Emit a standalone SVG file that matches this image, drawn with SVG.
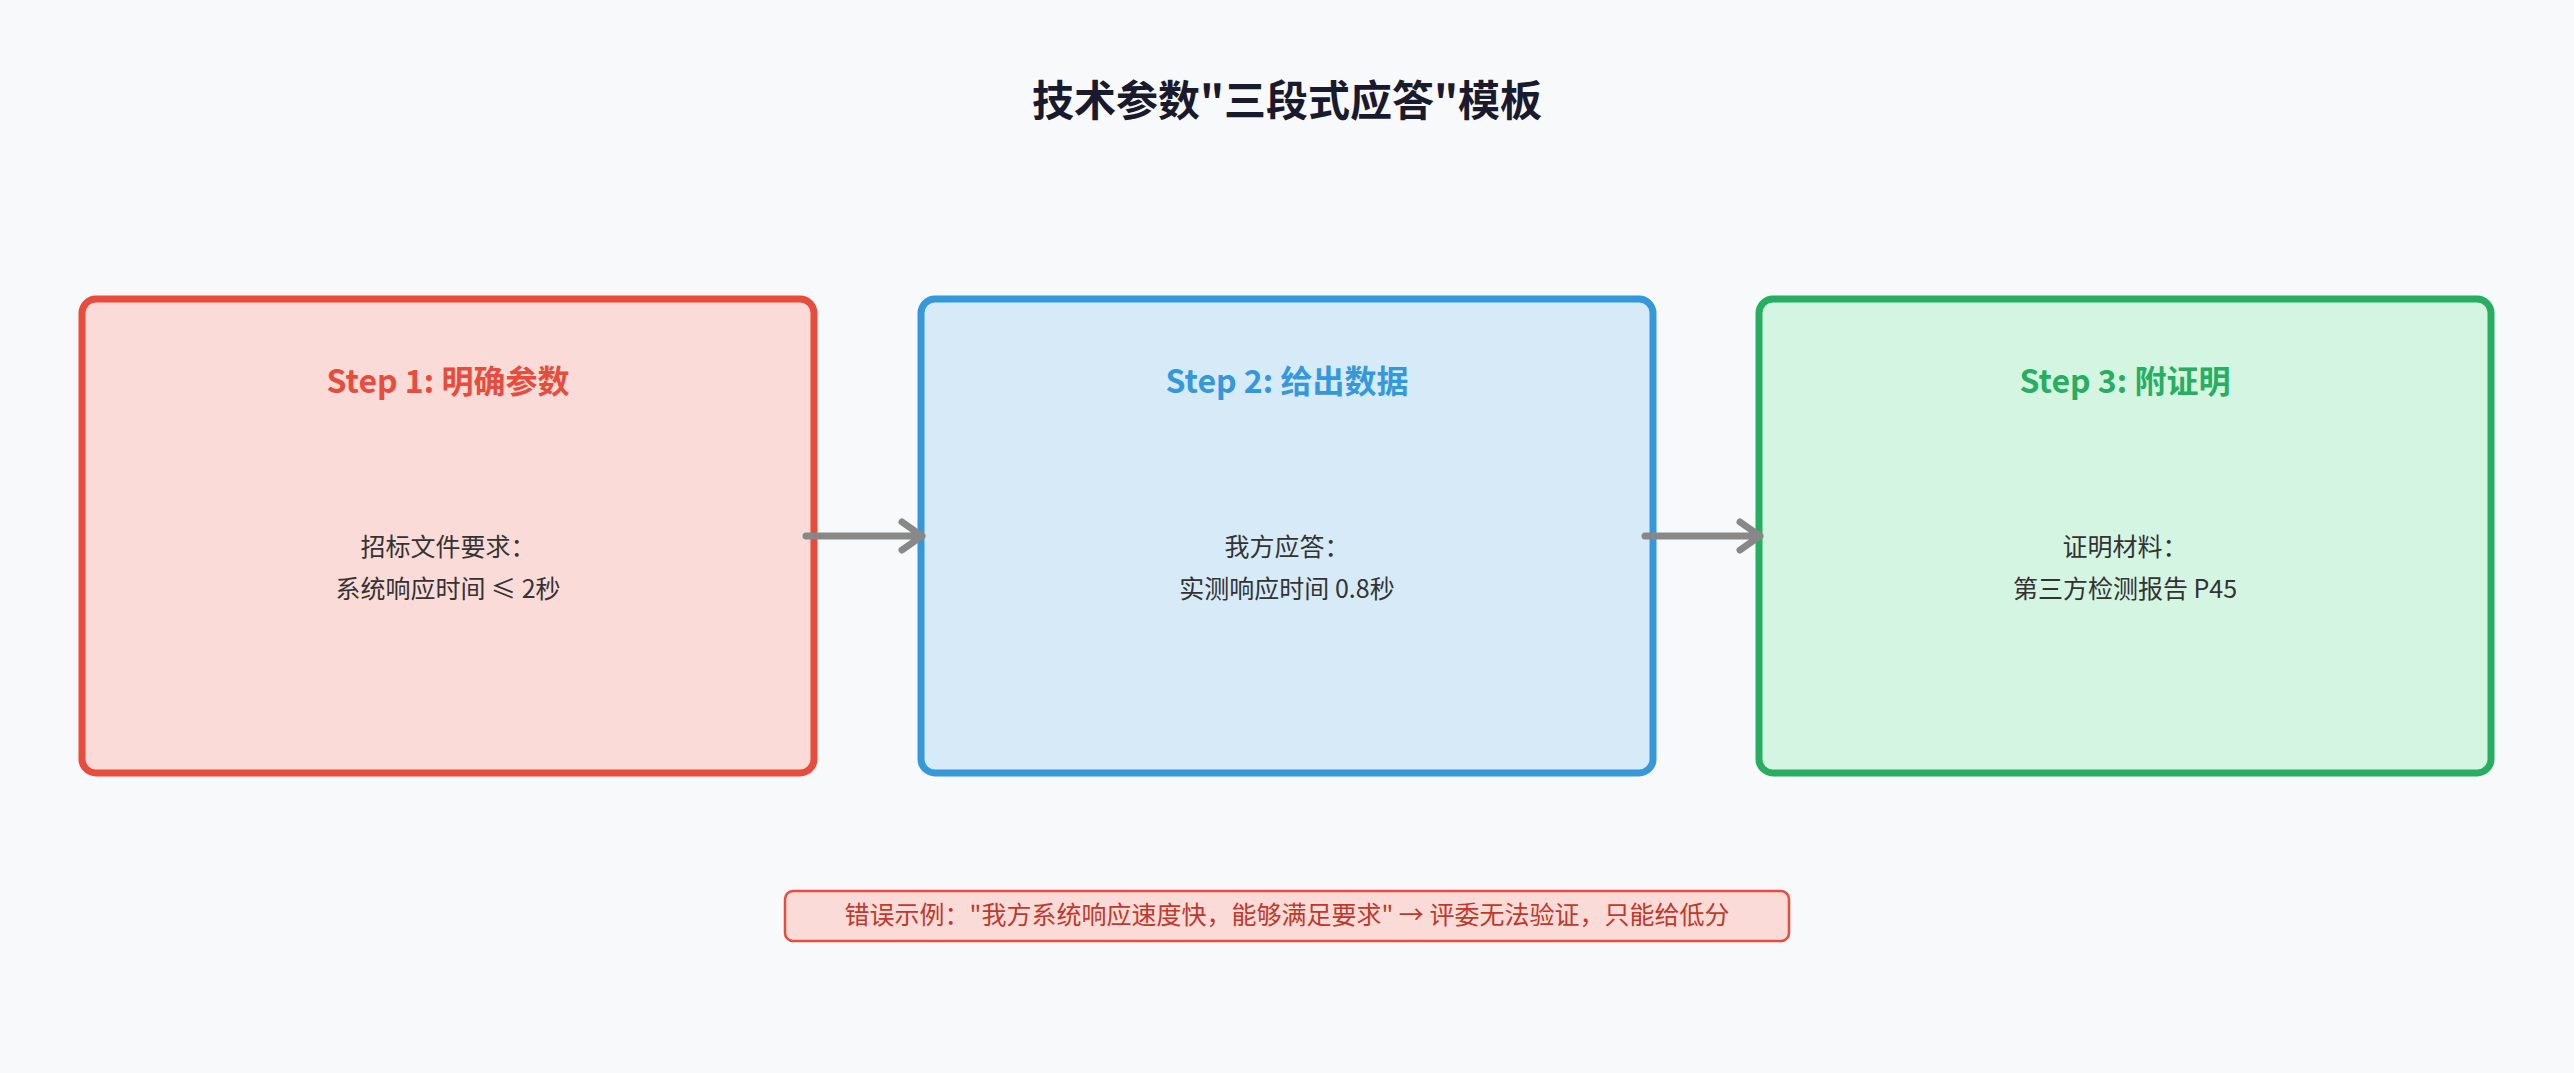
<svg xmlns="http://www.w3.org/2000/svg" width="2574" height="1073" viewBox="0 0 2574 1073">
<style>
text{font-family:"Noto Sans CJK SC","DejaVu Sans",sans-serif;text-anchor:middle}
.title{font-size:42px;font-weight:bold;fill:#1a1a2e}
.head{font-size:32px;font-weight:bold}
.body{font-size:25px;fill:#333}
.box{stroke-width:7}
.arrow{stroke:#888;stroke-width:7;fill:none;stroke-linecap:round;stroke-linejoin:round}
</style>
<rect width="2574" height="1073" fill="#f8f9fa"/>
<text class="title" x="1287" y="116">技术参数"三段式应答"模板</text>
<g id="step1">
<rect class="box" x="82" y="299" width="732" height="474" rx="14" fill="#fadbd8" stroke="#e74c3c"/>
<text class="head" x="448" y="393" fill="#e74c3c">Step 1: 明确参数</text>
<text class="body" x="448" y="556">招标文件要求：</text>
<text class="body" x="448" y="598">系统响应时间 ≤ 2秒</text>
</g>
<g id="step2">
<rect class="box" x="921" y="299" width="732" height="474" rx="14" fill="#d6eaf8" stroke="#3498db"/>
<text class="head" x="1287" y="393" fill="#3498db">Step 2: 给出数据</text>
<text class="body" x="1287" y="556">我方应答：</text>
<text class="body" x="1287" y="598">实测响应时间 0.8秒</text>
</g>
<g id="step3">
<rect class="box" x="1759" y="299" width="732" height="474" rx="14" fill="#d5f5e3" stroke="#27ae60"/>
<text class="head" x="2125" y="393" fill="#27ae60">Step 3: 附证明</text>
<text class="body" x="2125" y="556">证明材料：</text>
<text class="body" x="2125" y="598">第三方检测报告 P45</text>
</g>
<g id="connectors">
<path class="arrow" d="M806 536 H922 M902 522 L922 536 L902 550"/>
<path class="arrow" d="M1645 536 H1760 M1740 522 L1760 536 L1740 550"/>
</g>
<g id="note">
<rect x="785" y="891" width="1004" height="50" rx="8" fill="#fadbd8" stroke="#e74c3c" stroke-width="2.5"/>
<text x="1287" y="924" font-size="25" fill="#c0392b">错误示例："我方系统响应速度快，能够满足要求" → 评委无法验证，只能给低分</text>
</g>
</svg>
